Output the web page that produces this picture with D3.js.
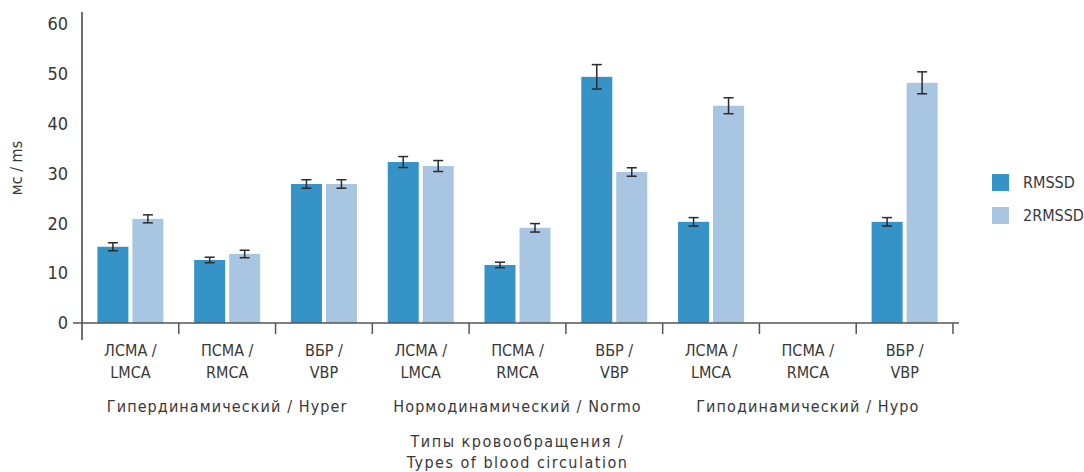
<!DOCTYPE html>
<html>
<head>
<meta charset="utf-8">
<script src="https://cdn.jsdelivr.net/npm/d3@7"></script>
<style>
  body { margin: 0; background: #fff; }
  text { font-family: "Liberation Sans Narrow", "DejaVu Sans Condensed", sans-serif; fill: #383838; }
</style>
</head>
<body>
<div id="chart"></div>
<script>
const categories = ["ЛСМА / LMCA", "ПСМА / RMCA", "ВБР / VBP",
                    "ЛСМА / LMCA", "ПСМА / RMCA", "ВБР / VBP",
                    "ЛСМА / LMCA", "ПСМА / RMCA", "ВБР / VBP"];
const groups = ["Гипердинамический / Hyper", "Нормодинамический / Normo", "Гиподинамический / Hypo"];
const seriesNames = ["RMSSD", "2RMSSD"];
const rmssd = [15.3, 12.65, 27.9, 32.3, 11.65, 49.4, 20.3, null, 20.3];
const rmssdErr = [0.8, 0.55, 0.85, 1.1, 0.55, 2.45, 0.85, null, 0.85];
const rmssd2 = [20.9, 13.85, 27.9, 31.5, 19.1, 30.3, 43.6, null, 48.2];
const rmssd2Err = [0.8, 0.75, 0.85, 1.1, 0.85, 0.85, 1.6, null, 2.2];
const yTicks = [0, 10, 20, 30, 40, 50, 60];

const width = 1084, height = 472;
const colors = ["#3593c7", "#a8c5e1"];

const svg = d3.select("#chart").append("svg")
    .attr("width", width)
    .attr("height", height);

const x = d3.scaleBand()
    .domain(d3.range(categories.length))
    .range([82, 953]);

const y = d3.scaleLinear()
    .domain([0, 60])
    .range([323, 24]);

// y labels
svg.append("g").selectAll("text")
    .data(yTicks)
    .enter()
    .append("text")
    .attr("x", 68)
    .attr("y", d => y(d))
    .attr("dy", "0.35em")
    .attr("text-anchor", "end")
    .style("font-size", "18px")
    .text(d => d);

svg.append("text")
    .attr("transform", `translate(22,${168}) rotate(-90)`)
    .attr("text-anchor", "middle")
    .style("font-size", "16px")
    .text("мс / ms");

// bars
const barW = 31, gap = 4;
const series = [
    { vals: rmssd, errs: rmssdErr },
    { vals: rmssd2, errs: rmssd2Err }
];

series.forEach((s, si) => {
    const offset = x.bandwidth() / 2 - barW - gap / 2 + si * (barW + gap);
    const data = s.vals.map((v, i) => ({ i, v, e: s.errs[i] })).filter(d => d.v != null);

    svg.append("g").selectAll("rect")
        .data(data)
        .enter()
        .append("rect")
        .attr("x", d => x(d.i) + offset)
        .attr("y", d => y(d.v))
        .attr("width", barW)
        .attr("height", d => y(0) - y(d.v))
        .attr("fill", colors[si]);

    const err = svg.append("g")
        .attr("stroke", "#2b2b2b")
        .attr("stroke-width", 1.5)
        .selectAll("g")
        .data(data)
        .enter()
        .append("g");
    const cx = d => x(d.i) + offset + barW / 2;
    err.append("line")
        .attr("x1", cx).attr("x2", cx)
        .attr("y1", d => y(d.v + d.e)).attr("y2", d => y(d.v - d.e));
    err.append("line")
        .attr("x1", d => cx(d) - 5).attr("x2", d => cx(d) + 5)
        .attr("y1", d => y(d.v + d.e)).attr("y2", d => y(d.v + d.e));
    err.append("line")
        .attr("x1", d => cx(d) - 5).attr("x2", d => cx(d) + 5)
        .attr("y1", d => y(d.v - d.e)).attr("y2", d => y(d.v - d.e));
});

// axes lines
const axisColor = "#555";
svg.append("line")
    .attr("x1", 82).attr("x2", 82)
    .attr("y1", 12).attr("y2", 340)
    .attr("stroke", "#222").attr("stroke-width", 1.3);

svg.append("line")
    .attr("x1", 73).attr("x2", 959)
    .attr("y1", y(0)).attr("y2", y(0))
    .attr("stroke", axisColor).attr("stroke-width", 1.5);

const tickPos = d3.range(1, categories.length + 1).map(i => i === categories.length ? x.range()[1] : x(i));
svg.append("g").selectAll("line")
    .data(tickPos)
    .enter()
    .append("line")
    .attr("x1", d => d).attr("x2", d => d)
    .attr("y1", y(0)).attr("y2", 334)
    .attr("stroke", axisColor).attr("stroke-width", 1.5);

// category labels
const catText = svg.append("g").selectAll("text")
    .data(categories)
    .enter()
    .append("text")
    .attr("text-anchor", "middle")
    .style("font-size", "16px");
catText.append("tspan")
    .attr("x", (d, i) => x(i) + x.bandwidth() / 2)
    .attr("y", 356)
    .text(d => d.split(" / ")[0] + " /");
catText.append("tspan")
    .attr("x", (d, i) => x(i) + x.bandwidth() / 2)
    .attr("y", 378)
    .text(d => d.split(" / ")[1]);

svg.append("g").selectAll("text")
    .data(groups)
    .enter()
    .append("text")
    .attr("x", (d, i) => x(i * 3) + x.bandwidth() * 1.5)
    .attr("y", 412)
    .attr("text-anchor", "middle")
    .style("font-size", "16px")
    .style("letter-spacing", "1.1px")
    .text(d => d);

const title = svg.append("text")
    .attr("text-anchor", "middle")
    .style("font-size", "16px")
    .style("letter-spacing", "1.5px");
title.append("tspan").attr("x", x.range()[0] + (x.range()[1] - x.range()[0]) / 2).attr("y", 447).text("Типы кровообращения /");
title.append("tspan").attr("x", x.range()[0] + (x.range()[1] - x.range()[0]) / 2).attr("y", 468).text("Types of blood circulation");

// legend
const legend = svg.append("g").selectAll("g")
    .data(seriesNames)
    .enter()
    .append("g")
    .attr("transform", (d, i) => `translate(992,${174 + i * 33})`);
legend.append("rect")
    .attr("width", 17).attr("height", 17)
    .attr("fill", (d, i) => colors[i]);
legend.append("text")
    .attr("x", 31).attr("y", 8.5)
    .attr("dy", "0.35em")
    .style("font-size", "16px")
    .text(d => d);
</script>
</body>
</html>
